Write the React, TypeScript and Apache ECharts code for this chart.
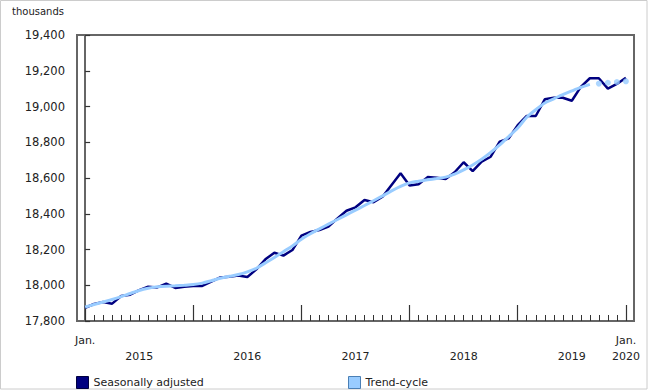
import React, { useEffect, useRef } from "react";
import * as echarts from "echarts";

// Monthly, January 2015 to January 2020 (thousands)
const yearLabels = ["2015", "2016", "2017", "2018", "2019", "2020"];
const firstMonthLabel = "Jan.";

const seasonallyAdjusted = [
  17874, 17895, 17906, 17897, 17940, 17947, 17973, 17992, 17988, 18009, 17985, 17992,
  17996, 17996, 18020, 18044, 18048, 18055, 18046, 18089, 18145, 18182, 18166, 18197,
  18278, 18298, 18309, 18328, 18374, 18417, 18436, 18477, 18464, 18495, 18561, 18626,
  18558, 18565, 18605, 18602, 18594, 18632, 18688, 18639, 18691, 18719, 18803, 18822,
  18896, 18947, 18947, 19040, 19049, 19049, 19032, 19110, 19158, 19158, 19100, 19126, 19161,
];

// Trend-cycle, Jan 2015 – Sep 2019 (solid line)
const trendCycle = [
  17878, 17892, 17906, 17920, 17936, 17954, 17971, 17983, 17991, 17995, 17997, 18000,
  18004, 18012, 18025, 18039, 18050, 18060, 18075, 18095, 18125, 18155, 18188, 18220,
  18258, 18288, 18315, 18342, 18368, 18394, 18420, 18446, 18473, 18500, 18528, 18553,
  18573, 18582, 18590, 18597, 18605, 18622, 18645, 18673, 18705, 18743, 18785, 18832,
  18880, 18940, 18982, 19020, 19043, 19066, 19087, 19107, 19124,
];
// Trend-cycle, Oct 2019 – Jan 2020 (latest estimates, dots)
const trendCycleLatest = [19128, 19133, 19137, 19141];

const FONT = "'DejaVu Sans', Verdana, sans-serif";
const DARK = "#000080";
const LIGHT = "#99ccff";
const AXIS = "#666666";

export default function App() {
  const ref = useRef<HTMLDivElement>(null);

  useEffect(() => {
    if (!ref.current) return;
    const chart = echarts.init(ref.current, null, { renderer: "svg" });

    const saData = seasonallyAdjusted.map((v, i) => [i, v]);
    const trendData = trendCycle.map((v, i) => [i, v]);
    const latestData = trendCycleLatest.map((v, i) => [trendCycle.length + i, v]);
    const lastIndex = seasonallyAdjusted.length - 1;

    const monthTicks = seasonallyAdjusted.map((_, i) => i).filter((i) => i % 12 !== 0);
    const yearTicks = yearLabels.map((_, k) => k * 12);
    const labelValues = [0, ...yearLabels.slice(0, -1).map((_, k) => k * 12 + 6), lastIndex];

    const xMin = -0.9;
    const xMax = lastIndex + 0.9;

    chart.setOption({
      animation: false,
      backgroundColor: "#ffffff",
      textStyle: { fontFamily: FONT },
      title: {
        text: "thousands",
        left: 12,
        top: 6,
        padding: 0,
        textStyle: { fontSize: 10, fontWeight: "normal", fontFamily: FONT, color: "#222" },
      },
      graphic: [
        {
          type: "rect",
          shape: { x: 0.5, y: 0.5, width: 646.5, height: 388.5 },
          style: { fill: "none", stroke: "#cccccc", lineWidth: 1 },
          silent: true,
        },
      ],
      grid: {
        left: 77,
        right: 16,
        top: 35,
        bottom: 71,
        show: true,
        borderColor: AXIS,
        borderWidth: 2,
        containLabel: false,
      },
      legend: [
        {
          data: [
            {
              name: "Seasonally adjusted",
              icon: "rect",
              itemStyle: { color: DARK, borderColor: "#000040", borderWidth: 1 },
            },
          ],
          left: 76,
          top: 376,
          padding: 0,
          itemWidth: 12,
          itemHeight: 12,
          selectedMode: false,
          textStyle: { fontFamily: FONT, fontSize: 11, color: "#222" },
        },
        {
          data: [
            {
              name: "Trend-cycle",
              icon: "rect",
              itemStyle: { color: LIGHT, borderColor: "#4a7fb5", borderWidth: 1 },
            },
          ],
          left: 348,
          top: 376,
          padding: 0,
          itemWidth: 12,
          itemHeight: 12,
          selectedMode: false,
          textStyle: { fontFamily: FONT, fontSize: 11, color: "#222" },
        },
      ],
      xAxis: [
        {
          type: "value",
          min: xMin,
          max: xMax,
          position: "bottom",
          axisLine: { show: true, lineStyle: { color: AXIS, width: 2 } },
          axisTick: {
            show: true,
            inside: true,
            length: 6,
            customValues: monthTicks,
            lineStyle: { color: "#333", width: 1 },
          },
          axisLabel: { show: false },
          splitLine: { show: false },
        },
        {
          type: "value",
          min: xMin,
          max: xMax,
          position: "bottom",
          offset: 0,
          axisLine: { show: false },
          axisTick: {
            show: true,
            inside: true,
            length: 16,
            customValues: yearTicks,
            lineStyle: { color: "#333", width: 1.2 },
          },
          axisLabel: {
            show: true,
            customValues: labelValues,
            margin: 11,
            fontFamily: FONT,
            fontSize: 11,
            color: "#222",
            lineHeight: 16,
            formatter: (value: number) => {
              if (value === 0) return firstMonthLabel;
              if (value === lastIndex) return firstMonthLabel + "\n" + yearLabels[yearLabels.length - 1];
              return "\n" + yearLabels[Math.floor(value / 12)];
            },
          },
          splitLine: { show: false },
        },
      ],
      yAxis: {
        type: "value",
        min: 17800,
        max: 19400,
        interval: 200,
        axisLine: { show: true, lineStyle: { color: AXIS, width: 2 } },
        axisTick: { show: true, inside: true, length: 5, lineStyle: { color: "#333", width: 1.2 } },
        axisLabel: {
          margin: 12,
          fontFamily: FONT,
          fontSize: 11.5,
          color: "#222",
          formatter: (v: number) => v.toLocaleString("en-US"),
        },
        splitLine: { show: false },
      },
      series: [
        {
          name: "Seasonally adjusted",
          type: "line",
          xAxisIndex: 0,
          data: saData,
          symbol: "none",
          lineStyle: { color: DARK, width: 2.5 },
          itemStyle: { color: DARK },
          z: 2,
        },
        {
          name: "Trend-cycle",
          type: "line",
          xAxisIndex: 0,
          data: trendData,
          symbol: "none",
          smooth: 0.3,
          lineStyle: { color: LIGHT, width: 3 },
          itemStyle: { color: LIGHT },
          z: 3,
        },
        {
          name: "Trend-cycle",
          type: "scatter",
          xAxisIndex: 0,
          data: latestData,
          symbol: "circle",
          symbolSize: 6,
          itemStyle: { color: LIGHT },
          z: 3,
        },
      ],
    });

    return () => {
      chart.dispose();
    };
  }, []);

  return (
    <div
      ref={ref}
      style={{ position: "fixed", left: 0, top: 0, width: 650, height: 392, background: "#fff" }}
    />
  );
}
